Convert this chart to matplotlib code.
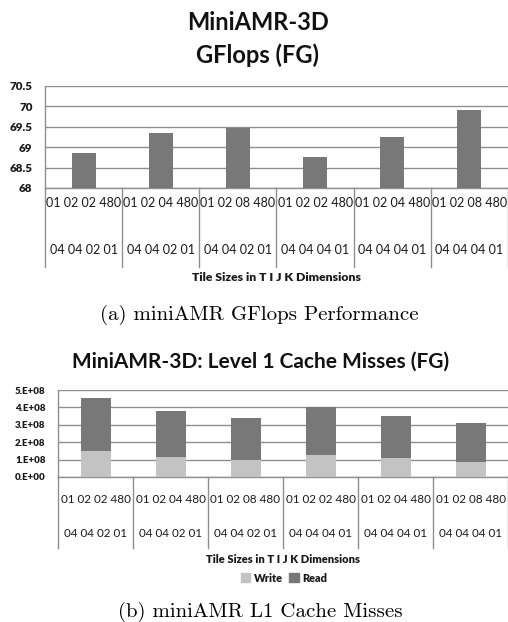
import matplotlib
matplotlib.use("Agg")
import matplotlib.pyplot as plt
import matplotlib.transforms as mtransforms
from matplotlib.patches import Patch

plt.rcParams['font.family'] = ['Lato', 'DejaVu Sans']

# tile configurations (two label rows per bar)
tiles_top = ["01 02 02 480", "01 02 04 480", "01 02 08 480",
             "01 02 02 480", "01 02 04 480", "01 02 08 480"]
tiles_bot = ["04 04 02 01", "04 04 02 01", "04 04 02 01",
             "04 04 04 01", "04 04 04 01", "04 04 04 01"]

# GFlops per configuration
gflops = [68.86, 69.34, 69.46, 68.76, 69.24, 69.91]
gflops_ticks = [68, 68.5, 69, 69.5, 70, 70.5]
gflops_ticklabels = ["68", "68.5", "69", "69.5", "70", "70.5"]

# L1 cache misses
l1_write = [1.50e8, 1.15e8, 1.00e8, 1.27e8, 1.10e8, 0.88e8]
l1_read = [3.04e8, 2.65e8, 2.40e8, 2.73e8, 2.40e8, 2.22e8]
miss_ticks = [0, 1e8, 2e8, 3e8, 4e8, 5e8]
miss_ticklabels = ["0.E+00", "1.E+08", "2.E+08", "3.E+08", "4.E+08", "5.E+08"]

W, H = 508, 622
fig = plt.figure(figsize=(W / 100, H / 100), dpi=100)

dark = "#787878"
light = "#c3c3c3"
gridc = "#8f8f8f"
txt = "#1a1a1a"


def px_axes(left, top, right, bottom):
    return fig.add_axes([left / W, 1 - bottom / H, (right - left) / W, (bottom - top) / H])


def style_axes(ax, ticks, ticklabels, tick_fs, cat_fs, xlab_fs,
               sep_depth, row1, row2, xlabel_y):
    n = len(tiles_top)
    ax.set_xlim(-0.5, n - 0.5)
    ax.set_xticks([])
    ax.set_yticks(ticks)
    ax.set_yticklabels(ticklabels, fontweight="heavy", fontsize=tick_fs, color=txt)
    for s in ["top", "right", "bottom"]:
        ax.spines[s].set_visible(False)
    ax.spines["left"].set_color(gridc)
    ax.spines["left"].set_linewidth(1.0)
    ax.yaxis.grid(True, color=gridc, linewidth=1.0)
    ax.set_axisbelow(True)
    ax.tick_params(axis="y", length=0, pad=9)
    tr = mtransforms.blended_transform_factory(ax.transData, ax.transAxes)
    ax.axhline(ax.get_ylim()[0], color=gridc, linewidth=1.0, clip_on=False)
    for b in range(n + 1):
        ax.plot([b - 0.5, b - 0.5], [0, sep_depth], transform=tr,
                color=gridc, linewidth=1.0, clip_on=False)
    for i in range(n):
        ax.text(i, row1, tiles_top[i], transform=tr, ha="center", va="center",
                fontsize=cat_fs, color=txt)
        ax.text(i, row2, tiles_bot[i], transform=tr, ha="center", va="center",
                fontsize=cat_fs, color=txt)
    ax.text(0.5, xlabel_y, "Tile Sizes in T I J K Dimensions", transform=ax.transAxes,
            ha="center", va="center", fontsize=xlab_fs, fontweight="heavy", color=txt)


# (a) GFlops
ax1 = px_axes(45, 86, 508, 188)
ax1.bar(range(len(gflops)), gflops, width=0.31, color=dark, zorder=3)
ax1.set_ylim(68, 70.5)
style_axes(ax1, gflops_ticks, gflops_ticklabels, 8.3, 9.0, 8.8,
           -0.775, -0.147, -0.608, -0.88)

fig.text(258 / W, 1 - 23 / H, "MiniAMR-3D", ha="center", va="center",
         fontsize=17, fontweight="bold", color="#111111")
fig.text(258 / W, 1 - 55 / H, "GFlops (FG)", ha="center", va="center",
         fontsize=17, fontweight="bold", color="#111111")
fig.text(259 / W, 1 - 315 / H, "(a) miniAMR GFlops Performance", ha="center", va="center",
         fontsize=15, family="cmr10")

# (b) L1 cache misses
ax2 = px_axes(58, 390, 508, 477)
pos = range(len(l1_write))
ax2.bar(pos, l1_write, width=0.4, color=light, zorder=3, label="Write")
ax2.bar(pos, l1_read, width=0.4, bottom=l1_write, color=dark, zorder=3, label="Read")
ax2.set_ylim(0, 5e8)
style_axes(ax2, miss_ticks, miss_ticklabels, 7.0, 8.4, 8.0,
           -0.816, -0.253, -0.644, -0.943)

fig.text(261 / W, 1 - 362 / H, "MiniAMR-3D: Level 1 Cache Misses (FG)", ha="center",
         va="center", fontsize=15, fontweight="bold", color="#111111")
handles = [Patch(color=light, label="Write"), Patch(color=dark, label="Read")]
leg = fig.legend(handles=handles, loc="center", bbox_to_anchor=(284 / W, 1 - 578 / H),
                 ncol=2, frameon=False, fontsize=7.9, handlelength=0.9, handleheight=0.9,
                 handletextpad=0.3, columnspacing=0.6)
for t in leg.get_texts():
    t.set_fontweight("heavy")
    t.set_color(txt)
fig.text(260 / W, 1 - 612 / H, "(b) miniAMR L1 Cache Misses", ha="center", va="center",
         fontsize=15, family="cmr10")

fig.savefig("out.png", dpi=100)
